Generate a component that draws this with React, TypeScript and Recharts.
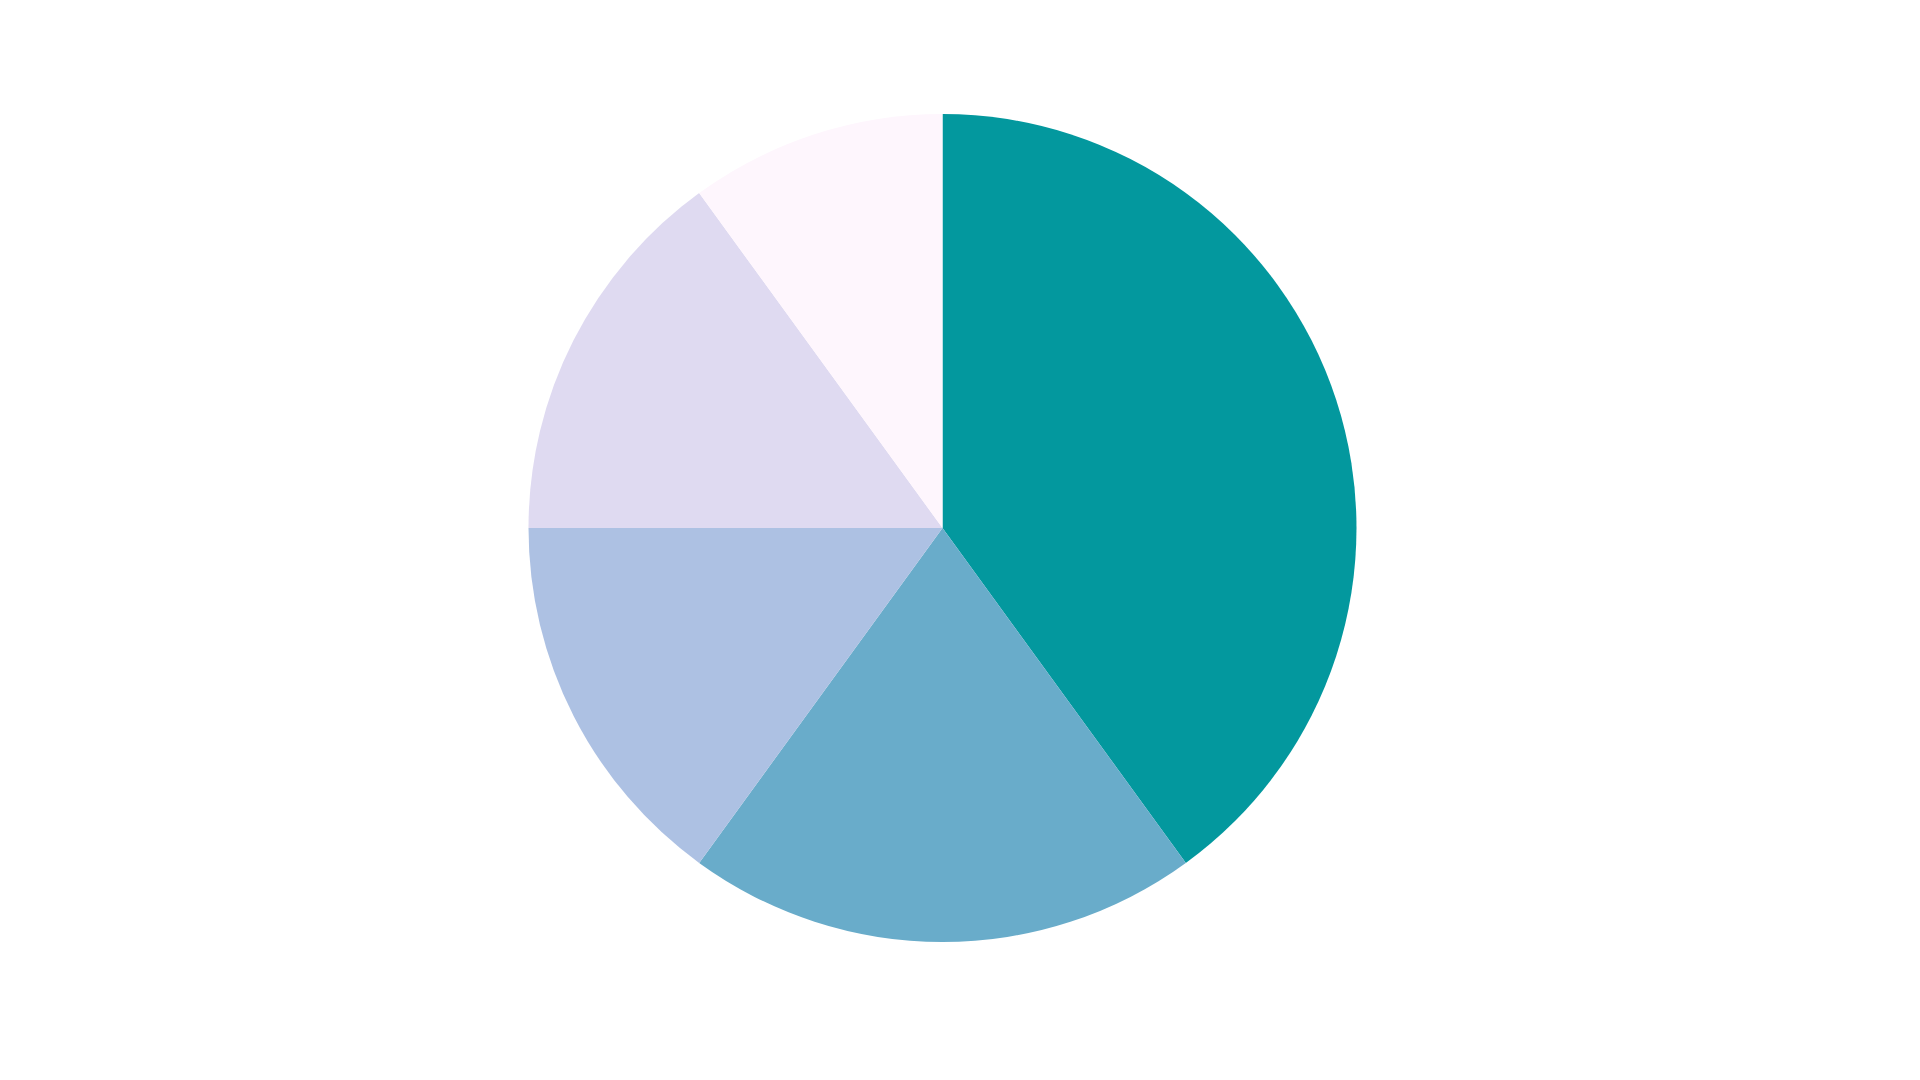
import { Cell, Pie, PieChart } from "recharts";

const categories = ["A", "B", "C", "D", "E"];
const values = [40, 20, 15, 15, 10];
const colors = ["#03989e", "#69acca", "#adc1e3", "#dfdaf1", "#fef6fd"];

const data = categories.map((name, i) => ({ name, value: values[i] }));

const App = () => {
	return (
		<div style={{ position: "absolute", left: 0, top: 0, background: "#fff" }}>
			<PieChart
				width={1920}
				height={1080}
				margin={{ top: 0, right: 0, bottom: 0, left: 0 }}
			>
				<Pie
					data={data}
					dataKey="value"
					nameKey="name"
					cx={942.5}
					cy={528}
					outerRadius={414}
					startAngle={90}
					endAngle={-270}
					stroke="none"
					isAnimationActive={false}
				>
					{data.map((d, i) => (
						<Cell key={d.name} fill={colors[i]} />
					))}
				</Pie>
			</PieChart>
		</div>
	);
};

export default App;
